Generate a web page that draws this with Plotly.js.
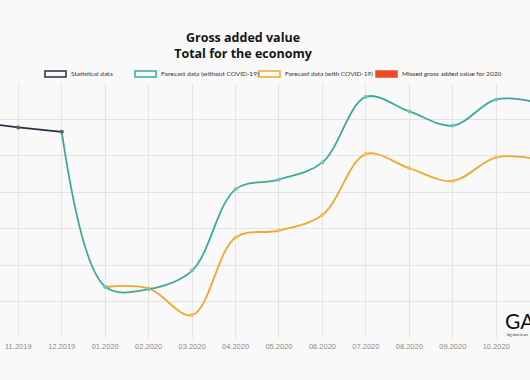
<!DOCTYPE html>
<html>
<head>
<meta charset="utf-8">
<script src="https://cdn.plot.ly/plotly-3.0.1.min.js"></script>
<style>html,body{margin:0;padding:0;background:#f9f9f9;}#chart{width:530px;height:380px;}</style>
</head>
<body>
<div id="chart"></div>
<script>
// Categories (months)
const months = ['10.2019','11.2019','12.2019','01.2020','02.2020','03.2020','04.2020','05.2020','06.2020','07.2020','08.2020','09.2020','10.2020','11.2020'];
// Statistical data
const statMonths = ['10.2019','11.2019','12.2019'];
const statValues = [593, 578, 566];
// Forecast without COVID-19
const noCovidMonths = ['12.2019','01.2020','02.2020','03.2020','04.2020','05.2020','06.2020','07.2020','08.2020','09.2020','10.2020','11.2020'];
const noCovidValues = [566, 141, 134, 185, 408, 435, 482, 662, 622, 583, 655, 645];
// Forecast with COVID-19
const covidMonths = ['01.2020','02.2020','03.2020','04.2020','05.2020','06.2020','07.2020','08.2020','09.2020','10.2020','11.2020'];
const covidValues = [140, 136, 63, 276, 295, 338, 505, 466, 431, 496, 489];
// Legend labels
const legendLabels = ['Statistical data','Forecast data (without COVID-19)','Forecast data (with COVID-19)','Missed gross added value for 2020'];

const cNavy = '#2b2d42', cTeal = '#3aab9b', cOrange = '#f5a62a', cRed = '#ef4b28';

const traces = [
  {x: covidMonths, y: covidValues, type:'scatter', mode:'lines+markers', name: legendLabels[2],
   line:{color:cOrange, width:1.8, shape:'spline', smoothing:1}, marker:{size:4, color:'#f7bd62'}, showlegend:false},
  {x: noCovidMonths, y: noCovidValues, type:'scatter', mode:'lines+markers', name: legendLabels[1],
   line:{color:cTeal, width:1.8, shape:'spline', smoothing:1}, marker:{size:4, color:'#74c4b8'}, showlegend:false},
  {x: statMonths, y: statValues, type:'scatter', mode:'lines+markers', name: legendLabels[0],
   line:{color:cNavy, width:1.8}, marker:{size:4, color:'#5a5c6e'}, showlegend:false}
];

const plotTop = 83, plotBottom = 338, plotH = plotBottom - plotTop;
const py = v => (plotBottom - v) / plotH;
const px = v => v / 530;

const legendItems = [
  {x0:45, x1:66, tx:69, color:cNavy, fill:'rgba(0,0,0,0)'},
  {x0:135, x1:156, tx:159, color:cTeal, fill:'rgba(0,0,0,0)'},
  {x0:259, x1:280, tx:283, color:cOrange, fill:'rgba(0,0,0,0)'},
  {x0:376, x1:397, tx:400, color:cRed, fill:cRed}
];
const shapes = legendItems.map(it => ({type:'rect', xref:'paper', yref:'paper',
  x0:px(it.x0), x1:px(it.x1), y0:py(77), y1:py(71), line:{color:it.color, width:1.5}, fillcolor:it.fill}));
const annotations = legendItems.map((it,i) => ({xref:'paper', yref:'paper', x:px(it.tx), y:py(74),
  xanchor:'left', yanchor:'middle', showarrow:false, text:legendLabels[i],
  font:{family:'Lato, sans-serif', size:6.5, color:'#333'}}));
annotations.push({xref:'paper', yref:'paper', x:px(503), y:py(320), xanchor:'left', yanchor:'middle',
  showarrow:false, text:'GA', font:{family:'Lato, sans-serif', size:21, color:'#111'}});
annotations.push({xref:'paper', yref:'paper', x:px(505), y:py(335), xanchor:'left', yanchor:'middle',
  showarrow:false, text:'big data team', font:{family:'Lato, sans-serif', size:3.5, color:'#333'}});

const layout = {
  width:530, height:380,
  margin:{l:0, r:0, t:plotTop, b:380-plotBottom, pad:0},
  paper_bgcolor:'#f9f9f9', plot_bgcolor:'#f9f9f9',
  title:{text:'<b>Gross added value</b><br><b>Total for the economy</b>', x:243/530, xanchor:'center', xref:'paper',
    y:1-41.5/380, yanchor:'middle', yref:'container', font:{family:'Open Sans, sans-serif', size:12.5, color:'#151515'}},
  xaxis:{type:'category', categoryorder:'array', categoryarray:months, range:[0.579, 12.777],
    showgrid:true, gridcolor:'#e4e4e4', gridwidth:1, zeroline:false, showline:false, ticks:'',
    ticklabelstandoff:2,
    tickfont:{family:'Liberation Sans, Arial, sans-serif', size:7.5, color:'#8a8a8a'}, fixedrange:true},
  yaxis:{range:[0,700], dtick:100, showticklabels:false, showgrid:true, gridcolor:'#e4e4e4', gridwidth:1,
    zeroline:false, showline:false, ticks:'', fixedrange:true},
  shapes:shapes, annotations:annotations, showlegend:false
};

Plotly.newPlot('chart', traces, layout, {displayModeBar:false, staticPlot:true});
</script>
</body>
</html>
